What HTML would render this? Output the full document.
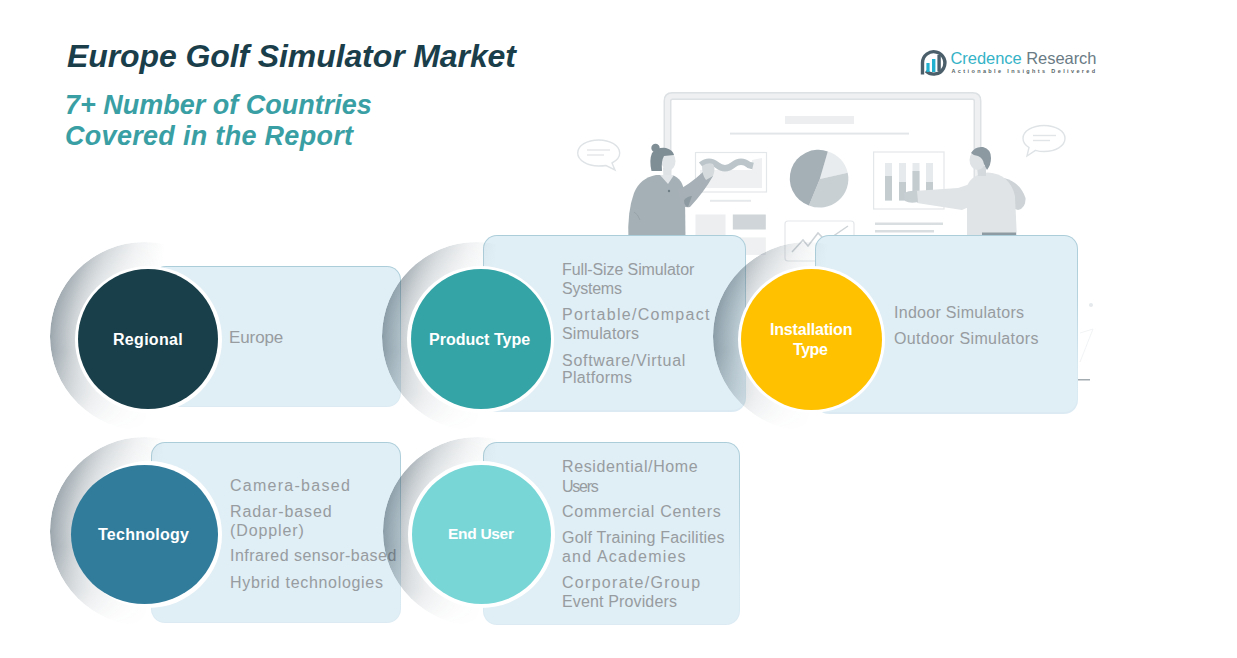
<!DOCTYPE html>
<html><head><meta charset="utf-8">
<style>
*{margin:0;padding:0;box-sizing:border-box}
html,body{width:1237px;height:658px;overflow:hidden;background:#fff}
body{position:relative;font-family:"Liberation Sans",sans-serif}
.abs{position:absolute}
.title{left:67px;top:36px;font-size:32px;font-weight:bold;font-style:italic;color:#1b3e4b;white-space:nowrap;letter-spacing:-0.1px;line-height:40px}
.sub{left:65px;font-size:27px;font-weight:bold;font-style:italic;color:#3a9fa4;white-space:nowrap;line-height:30px}
.box{position:absolute;border-radius:14px;background:linear-gradient(180deg,#abcdd9 0%,#b5d3df 35%,#d9eaf2 75%,#dcebf3 100%)}
.box::after{content:"";position:absolute;left:1.3px;top:1.3px;right:1.3px;bottom:1.3px;border-radius:12.7px;background:#e0eef5}
.halo{position:absolute;width:189px;height:189px;border-radius:50%;
 background:linear-gradient(95deg,rgba(48,70,84,0.52) 0%,rgba(48,70,84,0.40) 13%,rgba(50,72,86,0.22) 27%,rgba(50,72,86,0.08) 42%,rgba(50,72,86,0) 56%);
 -webkit-mask-image:radial-gradient(circle closest-side,rgba(0,0,0,0.6) 74%,#000 100%),linear-gradient(180deg,#000 58%,rgba(0,0,0,0.6) 80%,rgba(0,0,0,0) 100%);-webkit-mask-composite:source-in;mask-image:radial-gradient(circle closest-side,rgba(0,0,0,0.6) 74%,#000 100%),linear-gradient(180deg,#000 58%,rgba(0,0,0,0.6) 80%,rgba(0,0,0,0) 100%);mask-composite:intersect}
.ring{position:absolute;width:147px;height:147px;border-radius:50%;background:#fff}
.circ{position:absolute;border-radius:50%}
.lbl{position:absolute;color:#fff;font-weight:bold;font-size:16px;line-height:20px;white-space:nowrap}
.it{position:absolute;color:#979ca0;font-size:16px;line-height:20px;white-space:nowrap}
</style></head><body>

<!-- illustration -->
<svg class="abs" style="left:0;top:0" width="1237" height="658" viewBox="0 0 1237 658">
 <!-- monitor frame -->
 <path d="M667.5 262 V101 Q667.5 96 672.5 96 H972.5 Q977.5 96 977.5 101 V262" fill="none" stroke="#dde1e4" stroke-width="8"/>
 <path d="M667.5 262 V101 Q667.5 96 672.5 96 H972.5 Q977.5 96 977.5 101 V262" fill="none" stroke="#eef0f2" stroke-width="5"/>
 <rect x="785" y="116" width="69" height="8" fill="#eceef0"/>
 <rect x="730" y="132.6" width="179" height="2" fill="#e3e6e8"/>
<!-- left chart -->
 <rect x="695.5" y="152.5" width="71" height="39.5" fill="#fff" stroke="#e4e7e9" stroke-width="1.2"/>
 <path d="M700 170 L752 170 L752 160 L762 158 L762 188 L700 188 Z" fill="#eef0f1"/>
 <path d="M701 165 Q709 158.5 717 165 T733 165 T749 165 L753 166" fill="none" stroke="#bcc5ca" stroke-width="6.5"/>
 <rect x="710" y="199.8" width="41" height="2" fill="#e6e9eb"/>
 <rect x="695.5" y="214.5" width="30" height="25" fill="#eceef0"/>
 <rect x="732.8" y="214.5" width="33" height="15" fill="#cfd5d8"/>
 <rect x="732.8" y="237.4" width="33" height="17.5" fill="#eef0f1"/>
 <!-- pie -->
 <path d="M819.8 179 L827.8 151.4 A28.6 28.6 0 0 1 847.7 172.7 Z" fill="#e9ecee"/>
 <path d="M819.8 179 L847.7 172.7 A28.6 28.6 0 0 1 808.9 205.4 Z" fill="#c9d0d4"/>
 <path d="M819.8 179 L808.9 205.4 A28.6 28.6 0 0 1 827.8 151.4 Z" fill="#a4afb6"/>
 <!-- line chart box -->
 <rect x="785" y="221" width="69" height="40" rx="3" fill="#fff" stroke="#e4e7e9" stroke-width="1.2"/>
 <path d="M792 252 L803 240 L808 246 L818 233 L826 241 L848 226" fill="none" stroke="#cdd3d7" stroke-width="1.5"/>
 <!-- bar chart -->
 <rect x="873.6" y="152" width="70.4" height="57" fill="#fff" stroke="#e4e7e9" stroke-width="1.2"/>
 <rect x="885" y="163" width="7" height="37.5" fill="#e7eaec"/><rect x="885" y="176" width="7" height="24.5" fill="#c4ccd0"/>
 <rect x="899" y="163" width="7" height="37.5" fill="#e7eaec"/><rect x="899" y="182" width="7" height="18.5" fill="#c4ccd0"/>
 <rect x="912.5" y="163" width="7" height="37.5" fill="#e7eaec"/><rect x="912.5" y="171" width="7" height="29.5" fill="#c4ccd0"/>
 <rect x="926" y="163" width="7" height="37.5" fill="#e7eaec"/><rect x="926" y="182" width="7" height="18.5" fill="#c4ccd0"/>
 <rect x="875" y="222.5" width="68" height="2.5" fill="#d9dee1"/>
 <rect x="875" y="230" width="59" height="2.5" fill="#d9dee1"/>
 <!-- speech bubbles -->
 <g fill="#fff" stroke="#dfe3e6" stroke-width="1.4">
  <path d="M598.7 140 C610 140 619.7 145.5 619.7 153 C619.7 158 616 161 612 163 L615 170 L606 165.5 C603.5 166 601 166 598.7 166 C587 166 577.7 160 577.7 153 C577.7 145.5 587 140 598.7 140 Z"/>
  <path d="M1044 125.5 C1055.5 125.5 1065 131 1065 138.5 C1065 146 1055.5 151.5 1044 151.5 C1041 151.5 1038 151 1035.5 150.3 L1027 156 L1029 147.5 C1025 145 1023 142 1023 138.5 C1023 131 1032.5 125.5 1044 125.5 Z"/>
 </g>
 <g stroke="#e2e5e8" stroke-width="1.4">
  <line x1="587" y1="150" x2="610" y2="150"/><line x1="587" y1="155" x2="604" y2="155"/>
  <line x1="1033" y1="135.5" x2="1056" y2="135.5"/><line x1="1033" y1="140.5" x2="1050" y2="140.5"/>
 </g>
 <!-- woman -->
 <path d="M628.5 240 Q627 212 634 193 Q640 178 656 175 L672 175 Q683 178 685 195 L685.5 240 Z" fill="#a5b0b6"/>
 <path d="M678 190 Q690 184 703 172 L709 168 L713 176 Q704 192 690 207 Q684 208 680 204 Z" fill="#a6b0b6"/>
 <path d="M684 200 Q688 196 692 196 L688 207 Q684 206 684 200 Z" fill="#8e9aa1"/>
 <path d="M702 166 Q708 162 713 164 Q716 168 713 176 L706 180 Q702 175 702 166 Z" fill="#d5dadd"/>
 <path d="M663 168 L670 168 L671 178 L664 179 Z" fill="#dfe3e5"/>
 <path d="M660 175 L668 184 L674 175 Z" fill="#e3e6e8"/>
 <ellipse cx="668.5" cy="161" rx="7" ry="9.5" fill="#e2e5e7"/>
 <path d="M651.5 171 Q649 160 652 153 Q657 147 666 148 Q673 150 674 155 L664 156 Q661 161 662 171 Z" fill="#7f8d95"/>
 <circle cx="655.5" cy="148" r="4.2" fill="#7f8d95"/>
 <circle cx="669" cy="191" r="1.2" fill="#6f7d85"/>
 <path d="M634 212 Q638 214 640 220" fill="none" stroke="#939ea5" stroke-width="0.8"/>
 <!-- man -->
 <path d="M1004 178 Q1020 182 1025.5 198 Q1026 208 1018 210 L1004 205 Z" fill="#cdd3d6"/>
 <path d="M967 240 L967 186 Q972 174 988 172.5 Q1010 174 1015 196 L1017 240 Z" fill="#e0e4e6"/>
 <path d="M976 182 Q980 204 962 210 L917 203 L914 191 L958 188 Z" fill="#e0e4e6"/>
 <path d="M904 193 Q910 190 917 191 L918 202 Q910 204 905 201 Z" fill="#c8cfd3"/>
 <rect x="982" y="232.5" width="34" height="3.5" fill="#8f9ba2"/>
 <path d="M977 166 L986 166 L986 176 L978 176 Z" fill="#d3d9dc"/>
 <ellipse cx="977.5" cy="160" rx="8" ry="10" fill="#dfe3e5"/>
 <path d="M971 153 Q975 146 983 147 Q991 149 991 158 Q991 165 987 170 L984 164 Q983 158 978 156 Q974 156 971 153 Z" fill="#8c99a1"/>
<!-- faint right bits -->
 <circle cx="1091" cy="305" r="2" fill="#e6e9eb"/>
 <rect x="1077" y="379" width="13" height="1.5" fill="#a3acb1"/>
 <path d="M1080 333 L1093 329 L1080 362" fill="none" stroke="#eef0f1" stroke-width="0.8"/>
</svg>

<div class="abs title">Europe Golf Simulator Market</div>
<div class="abs sub" style="top:90px;letter-spacing:0px">7+ Number of Countries</div>
<div class="abs sub" style="top:121px;letter-spacing:0.3px">Covered in the Report</div>

<!-- Regional -->
<div class="box" style="left:152px;top:266px;width:249px;height:141px"></div>
<div class="halo" style="left:49.8px;top:241.8px"></div>
<div class="ring" style="left:74.8px;top:265.8px"></div>
<div class="circ" style="left:78.3px;top:269.3px;width:140px;height:140px;background:#193f4a"></div>
<div class="lbl" style="left:113px;top:330px;letter-spacing:0.3px">Regional</div>
<div class="it" style="left:229px;top:328px;font-size:17px;letter-spacing:-0.1px">Europe</div>

<!-- Product Type -->
<div class="box" style="left:483px;top:235px;width:263px;height:176.5px"></div>
<div class="halo" style="left:382px;top:241.5px"></div>
<div class="ring" style="left:407px;top:265.5px"></div>
<div class="circ" style="left:410.5px;top:269px;width:140px;height:140px;background:#34a4a6"></div>
<div class="lbl" style="left:429px;top:330px">Product Type</div>
<div class="it" style="left:562px;top:260px;letter-spacing:-0.11px">Full-Size Simulator</div>
<div class="it" style="left:562px;top:279px;letter-spacing:-0.23px">Systems</div>
<div class="it" style="left:562px;top:305px;letter-spacing:1.29px">Portable/Compact</div>
<div class="it" style="left:562px;top:324px;letter-spacing:0.17px">Simulators</div>
<div class="it" style="left:562px;top:351px;letter-spacing:0.71px">Software/Virtual</div>
<div class="it" style="left:562px;top:368px;letter-spacing:0.29px">Platforms</div>

<!-- Installation Type -->
<div class="box" style="left:815px;top:235px;width:263px;height:178.5px"></div>
<div class="halo" style="left:712.5px;top:241.5px"></div>
<div class="ring" style="left:737.5px;top:265.5px"></div>
<div class="circ" style="left:740.5px;top:268.5px;width:141px;height:141px;background:#ffc100"></div>
<div class="lbl" style="left:770px;top:320px;letter-spacing:-0.18px">Installation</div>
<div class="lbl" style="left:793px;top:339.5px;letter-spacing:-0.43px">Type</div>
<div class="it" style="left:894px;top:303px;letter-spacing:0.29px">Indoor Simulators</div>
<div class="it" style="left:894px;top:329px;letter-spacing:0.39px">Outdoor Simulators</div>

<!-- Technology -->
<div class="box" style="left:151px;top:442px;width:250px;height:181px"></div>
<div class="halo" style="left:49.5px;top:436.7px"></div>
<div class="ring" style="left:74.5px;top:460.7px"></div>
<div class="circ" style="left:71px;top:464.6px;width:147px;height:139px;background:#327c9b"></div>
<div class="lbl" style="left:98px;top:525px;letter-spacing:0.25px">Technology</div>
<div class="it" style="left:230px;top:476px;letter-spacing:1.27px">Camera-based</div>
<div class="it" style="left:230px;top:502px;letter-spacing:0.92px">Radar-based</div>
<div class="it" style="left:230px;top:521px;letter-spacing:0.88px">(Doppler)</div>
<div class="it" style="left:230px;top:546px;letter-spacing:0.49px">Infrared sensor-based</div>
<div class="it" style="left:230px;top:573px;letter-spacing:0.69px">Hybrid technologies</div>

<!-- End User -->
<div class="box" style="left:483px;top:442px;width:257px;height:183px"></div>
<div class="halo" style="left:382.5px;top:437px"></div>
<div class="ring" style="left:407.5px;top:461px"></div>
<div class="circ" style="left:411.5px;top:465px;width:139px;height:139px;background:#78d6d7"></div>
<div class="lbl" style="left:448px;top:524px;font-size:15.5px;letter-spacing:-0.3px">End User</div>
<div class="it" style="left:562px;top:457px;letter-spacing:0.63px">Residential/Home</div>
<div class="it" style="left:562px;top:476.5px;letter-spacing:-1.25px">Users</div>
<div class="it" style="left:562px;top:502px;letter-spacing:0.76px">Commercial Centers</div>
<div class="it" style="left:562px;top:528px;letter-spacing:0.22px">Golf Training Facilities</div>
<div class="it" style="left:562px;top:547px;letter-spacing:1.17px">and Academies</div>
<div class="it" style="left:562px;top:573px;letter-spacing:1.29px">Corporate/Group</div>
<div class="it" style="left:562px;top:592px;letter-spacing:0.14px">Event Providers</div>

<!-- logo -->
<svg class="abs" style="left:912px;top:44px" width="40" height="40" viewBox="912 44 40 40">
 <path d="M922.5 74.5 L922.5 62.8 A11.2 11.2 0 1 1 926 71" fill="none" stroke="#4b5f6b" stroke-width="3.4"/>
 <rect x="937.4" y="55" width="3.4" height="16" fill="#4b5f6b"/>
 <rect x="926.4" y="63" width="3.2" height="9" fill="#22b2cf"/>
 <rect x="932" y="59" width="3.4" height="13" fill="#22b2cf"/>
</svg>
<div class="abs" style="left:950.5px;top:48px;font-size:16.5px;white-space:nowrap;line-height:20px;letter-spacing:-0.05px"><span style="color:#35b3c7">Credence</span> <span style="color:#6a7b85">Research</span></div>
<div class="abs" style="left:951.5px;top:68px;font-size:5.5px;font-weight:bold;letter-spacing:2.38px;color:#555f66;white-space:nowrap;line-height:7px">Actionable Insights Delivered</div>

</body></html>
